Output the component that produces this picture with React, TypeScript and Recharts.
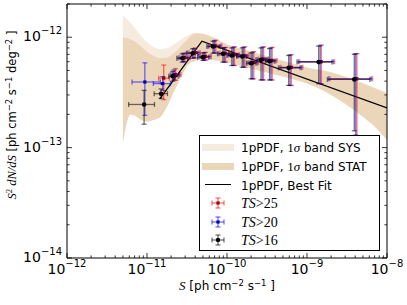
import React from 'react';
import { ComposedChart, Area, Line, Scatter, ErrorBar, XAxis, YAxis, Legend } from 'recharts';

const W = 407;
const H = 305;
const MARGIN = { top: 3, right: 19, bottom: 46, left: 66 };

// ---- 1pPDF bands ----
const bandS = [5e-12, 5.5e-12, 6.2e-12, 7e-12, 8.5e-12, 1e-11, 1.2e-11, 1.45e-11, 1.8e-11, 2.2e-11, 2.7e-11, 3.3e-11, 4e-11, 5e-11, 7e-11, 1e-10, 2e-10, 5e-10, 1e-9, 2e-9, 5e-9, 7e-9, 1e-8];
const statLo = [1.1e-13, 1.6e-13, 2.0e-13, 1.95e-13, 1.78e-13, 1.72e-13, 1.78e-13, 1.88e-13, 2.4e-13, 3.3e-13, 4.4e-13, 5.7e-13, 6.1e-13, 6.3e-13, 6.2e-13, 5.9e-13, 5.2e-13, 4.4e-13, 3.8e-13, 3.0e-13, 1.9e-13, 1.55e-13, 1.17e-13];
const statHi = [1.0e-12, 0.99e-12, 0.96e-12, 0.92e-12, 0.82e-12, 0.74e-12, 0.68e-12, 0.645e-12, 0.66e-12, 0.72e-12, 0.84e-12, 0.98e-12, 1.08e-12, 1.07e-12, 0.98e-12, 0.86e-12, 0.74e-12, 0.61e-12, 0.53e-12, 0.48e-12, 0.38e-12, 0.345e-12, 0.31e-12];
const sysHi = [1.57e-12, 1.48e-12, 1.36e-12, 1.22e-12, 1.02e-12, 0.9e-12, 0.82e-12, 0.78e-12, 0.8e-12, 0.87e-12, 0.96e-12, 1.05e-12, 1.1e-12, 1.08e-12, 0.99e-12, 0.87e-12, 0.745e-12, 0.615e-12, 0.535e-12, 0.485e-12, 0.385e-12, 0.35e-12, 0.315e-12];

// ---- best fit (broken power law) ----
const fitS = [1.44e-11, 4.86e-11, 1e-8];
const fitY = [2.75e-13, 9.2e-13, 2.29e-13];

// ---- TS>16 (black) ----
const ts16S = [9.2e-12, 1.5e-11, 2.1e-11, 2.76e-11, 3.72e-11, 5.0e-11, 6.7e-11, 8.9e-11, 1.15e-10, 1.55e-10, 2.0e-10, 2.66e-10, 3.4e-10, 5.9e-10, 1.4e-9, 3.9e-9];
const ts16Y = [2.46e-13, 3.08e-13, 4.42e-13, 6.45e-13, 7.17e-13, 6.6e-13, 8.24e-13, 7.08e-13, 6.84e-13, 6.7e-13, 5.82e-13, 6.25e-13, 6.07e-13, 5.28e-13, 5.95e-13, 4.15e-13];
const ts16SLo = [5.9e-12, 1.23e-11, 1.87e-11, 2.36e-11, 3.1e-11, 4.3e-11, 5.6e-11, 7.6e-11, 1.0e-10, 1.33e-10, 1.75e-10, 2.3e-10, 3.0e-10, 4.4e-10, 7.5e-10, 1.8e-9];
const ts16SHi = [1.24e-11, 1.8e-11, 2.45e-11, 3.2e-11, 4.3e-11, 5.9e-11, 8.0e-11, 1.05e-10, 1.32e-10, 1.75e-10, 2.3e-10, 3.05e-10, 3.9e-10, 8.2e-10, 2.05e-9, 6.1e-9];
const ts16YLo = [1.63e-13, 2.8e-13, 4.0e-13, 5.95e-13, 6.45e-13, 6.16e-13, 7.17e-13, 5.95e-13, 5.55e-13, 5.35e-13, 4.2e-13, 4.1e-13, 4.1e-13, 3.66e-13, 3.8e-13, 1.42e-13];
const ts16YHi = [3.3e-13, 3.4e-13, 4.9e-13, 7.07e-13, 7.85e-13, 7.2e-13, 9.2e-13, 8.0e-13, 8.0e-13, 8.0e-13, 7.2e-13, 8.0e-13, 7.9e-13, 6.84e-13, 8.3e-13, 7.0e-13];

// ---- TS>20 (blue) ----
const ts20S = [9.4e-12, 1.57e-11, 2.18e-11, 2.87e-11, 3.87e-11, 5.2e-11, 6.97e-11, 9.26e-11, 1.2e-10, 1.61e-10, 2.08e-10, 2.77e-10, 3.54e-10, 6.14e-10, 1.46e-9, 4.06e-9];
const ts20Y = [3.93e-13, 3.8e-13, 4.55e-13, 6.5e-13, 7.2e-13, 6.65e-13, 8.3e-13, 7.1e-13, 6.9e-13, 6.75e-13, 5.85e-13, 6.3e-13, 6.1e-13, 5.3e-13, 6.0e-13, 4.2e-13];
const ts20SLo = [6.5e-12, 1.2e-11, 1.95e-11, 2.45e-11, 3.22e-11, 4.47e-11, 5.82e-11, 7.9e-11, 1.04e-10, 1.38e-10, 1.82e-10, 2.39e-10, 3.12e-10, 4.58e-10, 7.8e-10, 1.87e-9];
const ts20SHi = [1.47e-11, 1.97e-11, 2.55e-11, 3.33e-11, 4.47e-11, 6.14e-11, 8.32e-11, 1.09e-10, 1.37e-10, 1.82e-10, 2.39e-10, 3.17e-10, 4.06e-10, 8.53e-10, 2.13e-9, 6.34e-9];
const ts20YLo = [1.96e-13, 3.3e-13, 4.1e-13, 6.0e-13, 6.5e-13, 6.2e-13, 7.2e-13, 5.95e-13, 5.55e-13, 5.35e-13, 4.2e-13, 4.1e-13, 4.1e-13, 3.66e-13, 3.8e-13, 1.3e-13];
const ts20YHi = [5.86e-13, 4.4e-13, 5.05e-13, 7.15e-13, 7.9e-13, 7.25e-13, 9.3e-13, 8.05e-13, 8.1e-13, 8.1e-13, 7.3e-13, 8.1e-13, 8.0e-13, 6.9e-13, 8.4e-13, 7.1e-13];

// ---- TS>25 (red) ----
const ts25S = [1.62e-11, 2.27e-11, 2.98e-11, 4.02e-11, 5.4e-11, 7.24e-11, 9.6e-11, 1.24e-10, 1.67e-10, 2.16e-10, 2.87e-10, 3.67e-10, 6.37e-10, 1.51e-9, 4.21e-9];
const ts25Y = [4.26e-13, 4.6e-13, 6.55e-13, 7.25e-13, 6.7e-13, 8.35e-13, 7.15e-13, 6.95e-13, 6.8e-13, 5.9e-13, 6.35e-13, 6.15e-13, 5.35e-13, 6.0e-13, 4.2e-13];
const ts25SLo = [1.4e-11, 2.02e-11, 2.55e-11, 3.35e-11, 4.64e-11, 6.05e-11, 8.2e-11, 1.08e-10, 1.44e-10, 1.89e-10, 2.48e-10, 3.24e-10, 4.75e-10, 8.1e-10, 1.94e-9];
const ts25SHi = [1.9e-11, 2.65e-11, 3.46e-11, 4.64e-11, 6.37e-11, 8.64e-11, 1.13e-10, 1.43e-10, 1.89e-10, 2.48e-10, 3.29e-10, 4.21e-10, 8.86e-10, 2.21e-9, 6.59e-9];
const ts25YLo = [2.72e-13, 4.07e-13, 6.0e-13, 6.5e-13, 6.2e-13, 7.2e-13, 5.95e-13, 5.55e-13, 5.35e-13, 4.2e-13, 4.1e-13, 4.1e-13, 3.66e-13, 3.8e-13, 1.2e-13];
const ts25YHi = [5.6e-13, 5.2e-13, 7.2e-13, 8.0e-13, 7.3e-13, 9.4e-13, 8.1e-13, 8.2e-13, 8.2e-13, 7.4e-13, 8.2e-13, 8.1e-13, 6.95e-13, 8.5e-13, 7.1e-13];

// ---- ticks ----
const xMajor = [1e-12, 1e-11, 1e-10, 1e-9, 1e-8];
const xMajorLabels = ['\u221212', '\u221211', '\u221210', '\u22129', '\u22128'];
const yMajor = [1e-14, 1e-13, 1e-12];
const yMajorLabels = ['\u221214', '\u221213', '\u221212'];
const minorMult = [2, 3, 4, 5, 6, 7, 8, 9];

const xTicks: number[] = [];
xMajor.forEach((m, i) => {
  xTicks.push(m);
  if (i < xMajor.length - 1) minorMult.forEach((k) => xTicks.push(k * m));
});
const yTicks: number[] = [];
yMajor.forEach((m, i) => {
  yTicks.push(m);
  if (i < yMajor.length - 1) minorMult.forEach((k) => yTicks.push(k * m));
});
yTicks.push(2e-12);

const bandData = bandS.map((S, i) => ({ S, sys: [statLo[i], sysHi[i]], stat: [statLo[i], statHi[i]] }));
const fitData = fitS.map((S, i) => ({ S, Y: fitY[i] }));
const mk = (S: number[], Y: number[], SLo: number[], SHi: number[], YLo: number[], YHi: number[]) =>
  S.map((s, i) => ({ S: s, Y: Y[i], ex: [s - SLo[i], SHi[i] - s], ey: [Y[i] - YLo[i], YHi[i] - Y[i]] }));
const data16 = mk(ts16S, ts16Y, ts16SLo, ts16SHi, ts16YLo, ts16YHi);
const data20 = mk(ts20S, ts20Y, ts20SLo, ts20SHi, ts20YLo, ts20YHi);
const data25 = mk(ts25S, ts25Y, ts25SLo, ts25SHi, ts25YLo, ts25YHi);

const SANS = "'DejaVu Sans', sans-serif";
const SERIF = "'Liberation Serif', 'DejaVu Serif', serif";
const SYS_COLOR = '#f5ecdf';
const STAT_COLOR = '#ebd6ba';
const RED = 'rgba(255,0,0,0.55)';
const BLUE = 'rgba(0,0,255,0.55)';
const BLACK = 'rgba(0,0,0,0.55)';

const majorIdx = (v: number, arr: number[]) => arr.findIndex((m) => Math.abs(Math.log10(v) - Math.log10(m)) < 1e-6);

const MAJ = 5;
const MIN = 2.6;

function BottomTick(p: any) {
  const { x, y, payload } = p;
  const i = majorIdx(payload.value, xMajor);
  const major = i >= 0;
  return (
    <g>
      <line x1={x} x2={x} y1={y} y2={y - (major ? MAJ : MIN)} stroke="#000" strokeWidth={0.8} />
      {major && (
        <text x={x} y={y + 16} textAnchor="middle" fontFamily={SANS} fontSize={14} fill="#000">
          10<tspan dy={-7} fontSize={10}>{xMajorLabels[i]}</tspan>
        </text>
      )}
    </g>
  );
}
function TopTick(p: any) {
  const { x, y, payload } = p;
  const major = majorIdx(payload.value, xMajor) >= 0;
  return <line x1={x} x2={x} y1={y} y2={y + (major ? MAJ : MIN)} stroke="#000" strokeWidth={0.8} />;
}
function LeftTick(p: any) {
  const { x, y, payload } = p;
  const i = majorIdx(payload.value, yMajor);
  const major = i >= 0;
  return (
    <g>
      <line x1={x} x2={x + (major ? MAJ : MIN)} y1={y} y2={y} stroke="#000" strokeWidth={0.8} />
      {major && (
        <text x={x - 5} y={y + 4} textAnchor="end" fontFamily={SANS} fontSize={14} fill="#000">
          10<tspan dy={-7} fontSize={10}>{yMajorLabels[i]}</tspan>
        </text>
      )}
    </g>
  );
}
function RightTick(p: any) {
  const { x, y, payload } = p;
  const major = majorIdx(payload.value, yMajor) >= 0;
  return <line x1={x} x2={x - (major ? MAJ : MIN)} y1={y} y2={y} stroke="#000" strokeWidth={0.8} />;
}

function XTitle(props: any) {
  const vb = props.viewBox;
  return (
    <text x={vb.x + vb.width / 2} y={vb.y + 32} textAnchor="middle" fontFamily={SANS} fontSize={12} fill="#000">
      <tspan fontFamily={SERIF} fontStyle="italic" fontSize={13}>S</tspan>
      <tspan> [ph cm</tspan>
      <tspan dy={-4} fontSize={8.5}>{'\u22122'}</tspan>
      <tspan dy={4}>{'  s'}</tspan>
      <tspan dy={-4} fontSize={8.5}>{'\u22121'}</tspan>
      <tspan dy={4}>{' ]'}</tspan>
    </text>
  );
}

function YTitle(props: any) {
  const vb = props.viewBox;
  const cx = vb.x - 50;
  const cy = vb.y + vb.height / 2 - 16;
  return (
    <text x={cx} y={cy} transform={`rotate(-90 ${cx} ${cy})`} textAnchor="middle" fontFamily={SANS} fontSize={11.5} fill="#000">
      <tspan fontFamily={SERIF} fontStyle="italic" fontSize={12.5}>S</tspan>
      <tspan dy={-4} fontSize={8.5} fontFamily={SERIF}>2</tspan>
      <tspan dy={4} fontFamily={SERIF} fontStyle="italic" fontSize={12.5}>{' dN/dS'}</tspan>
      <tspan> [ph cm</tspan>
      <tspan dy={-4} fontSize={8.5}>{'\u22122'}</tspan>
      <tspan dy={4}>{'  s'}</tspan>
      <tspan dy={-4} fontSize={8.5}>{'\u22121'}</tspan>
      <tspan dy={4}>{'  deg'}</tspan>
      <tspan dy={-4} fontSize={8.5}>{'\u22122'}</tspan>
      <tspan dy={4}>{' ]'}</tspan>
    </text>
  );
}

function ErrSym({ color, marker }: { color: string; marker: 'sq-r' | 'sq-b' | 'dot' }) {
  const cx = 18;
  const cy = 9;
  return (
    <svg width={36} height={18} style={{ position: 'absolute', left: 0, top: 0 }}>
      <line x1={cx - 6} x2={cx + 6} y1={cy} y2={cy} stroke={color} strokeWidth={1.3} />
      <line x1={cx} x2={cx} y1={cy - 5} y2={cy + 5} stroke={color} strokeWidth={1.3} />
      <line x1={cx - 6} x2={cx - 6} y1={cy - 2.5} y2={cy + 2.5} stroke={color} strokeWidth={1.3} />
      <line x1={cx + 6} x2={cx + 6} y1={cy - 2.5} y2={cy + 2.5} stroke={color} strokeWidth={1.3} />
      <line x1={cx - 2.5} x2={cx + 2.5} y1={cy - 5} y2={cy - 5} stroke={color} strokeWidth={1.3} />
      <line x1={cx - 2.5} x2={cx + 2.5} y1={cy + 5} y2={cy + 5} stroke={color} strokeWidth={1.3} />
      {marker === 'dot' ? (
        <circle cx={cx} cy={cy} r={2.2} fill="#000" />
      ) : (
        <rect x={cx - 1.6} y={cy - 1.6} width={3.2} height={3.2} fill={marker === 'sq-r' ? '#a00000' : '#0000a0'} />
      )}
    </svg>
  );
}

const rowCenters = [11, 30, 48.5, 67, 85.5, 104];

function LegendBox() {
  const row = (i: number, sym: React.ReactNode, label: React.ReactNode) => (
    <div key={i} style={{ position: 'absolute', left: 0, top: rowCenters[i] - 9, width: 180, height: 18 }}>
      <div style={{ position: 'absolute', left: 0, top: 0, width: 36, height: 18 }}>{sym}</div>
      <div style={{ position: 'absolute', left: 41, top: 0, height: 18, lineHeight: '18px', whiteSpace: 'nowrap' }}>{label}</div>
    </div>
  );
  const patch = (c: string) => (
    <div style={{ position: 'absolute', left: 2, top: 6, width: 32, height: 6.5, background: c }} />
  );
  const bandLabel = (kind: string) => (
    <span style={{ fontFamily: SANS, fontSize: 12 }}>
      1pPDF, <span style={{ fontFamily: SERIF, fontSize: 13 }}>1<i>σ</i></span> band {kind}
    </span>
  );
  const tsLabel = (n: string) => (
    <span style={{ fontFamily: SERIF, fontSize: 14 }}>
      <i>TS</i>&gt;{n}
    </span>
  );
  return (
    <div
      style={{
        position: 'relative',
        width: 181,
        height: 116,
        boxSizing: 'border-box',
        border: '1px solid #000',
        background: '#fff',
        color: '#000',
      }}
    >
      {row(0, patch(SYS_COLOR), bandLabel('SYS'))}
      {row(1, patch(STAT_COLOR), bandLabel('STAT'))}
      {row(
        2,
        <div style={{ position: 'absolute', left: 5, top: 8.3, width: 26, height: 1.4, background: '#000' }} />,
        <span style={{ fontFamily: SANS, fontSize: 12 }}>1pPDF, Best Fit</span>
      )}
      {row(3, <ErrSym color={RED} marker="sq-r" />, tsLabel('25'))}
      {row(4, <ErrSym color={BLUE} marker="sq-b" />, tsLabel('20'))}
      {row(5, <ErrSym color={BLACK} marker="dot" />, tsLabel('16'))}
    </div>
  );
}

const squareShape = (fill: string) => (p: any) =>
  p.cx == null ? <g /> : <rect x={p.cx - 1.6} y={p.cy - 1.6} width={3.2} height={3.2} fill={fill} />;
const dotShape = (p: any) => (p.cx == null ? <g /> : <circle cx={p.cx} cy={p.cy} r={2.3} fill="#000" />);

export default function App() {
  const axisLine = { stroke: '#000', strokeWidth: 1 };
  return (
    <div style={{ position: 'absolute', left: 0, top: 0, width: W, height: H, background: '#fff' }}>
      <ComposedChart width={W} height={H} margin={MARGIN}>
        <XAxis
          xAxisId="b"
          dataKey="S"
          type="number"
          scale="log"
          domain={[1e-12, 1e-8]}
          allowDataOverflow
          ticks={xTicks}
          interval={0}
          tick={(p: any) => <BottomTick {...p} />}
          tickLine={false}
          tickSize={0}
          tickMargin={0}
          height={1}
          axisLine={axisLine}
          orientation="bottom"
          label={XTitle}
        />
        <XAxis
          xAxisId="t"
          dataKey="S"
          type="number"
          scale="log"
          domain={[1e-12, 1e-8]}
          allowDataOverflow
          ticks={xTicks}
          interval={0}
          tick={(p: any) => <TopTick {...p} />}
          tickLine={false}
          tickSize={0}
          tickMargin={0}
          height={1}
          axisLine={axisLine}
          orientation="top"
        />
        <YAxis
          yAxisId="l"
          dataKey="Y"
          type="number"
          scale="log"
          domain={[1e-14, 2e-12]}
          allowDataOverflow
          ticks={yTicks}
          interval={0}
          tick={(p: any) => <LeftTick {...p} />}
          tickLine={false}
          tickSize={0}
          tickMargin={0}
          width={1}
          axisLine={axisLine}
          orientation="left"
          label={YTitle}
        />
        <YAxis
          yAxisId="r"
          dataKey="Y"
          type="number"
          scale="log"
          domain={[1e-14, 2e-12]}
          allowDataOverflow
          ticks={yTicks}
          interval={0}
          tick={(p: any) => <RightTick {...p} />}
          tickLine={false}
          tickSize={0}
          tickMargin={0}
          width={1}
          axisLine={axisLine}
          orientation="right"
        />
        <Area
          xAxisId="b"
          yAxisId="l"
          data={bandData}
          dataKey="sys"
          type="monotone"
          stroke="none"
          fill={SYS_COLOR}
          fillOpacity={1}
          isAnimationActive={false}
        />
        <Area
          xAxisId="b"
          yAxisId="l"
          data={bandData}
          dataKey="stat"
          type="monotone"
          stroke="none"
          fill={STAT_COLOR}
          fillOpacity={1}
          isAnimationActive={false}
        />
        <Line
          xAxisId="b"
          yAxisId="l"
          data={fitData}
          dataKey="Y"
          type="linear"
          stroke="#000"
          strokeWidth={1.3}
          dot={false}
          isAnimationActive={false}
        />
        <Scatter xAxisId="b" yAxisId="l" data={data25} dataKey="Y" shape={squareShape('#a00000')} isAnimationActive={false}>
          <ErrorBar dataKey="ex" direction="x" width={2.5} stroke={RED} strokeWidth={1.3} />
          <ErrorBar dataKey="ey" direction="y" width={2.5} stroke={RED} strokeWidth={1.3} />
        </Scatter>
        <Scatter xAxisId="b" yAxisId="l" data={data20} dataKey="Y" shape={squareShape('#0000a0')} isAnimationActive={false}>
          <ErrorBar dataKey="ex" direction="x" width={2.5} stroke={BLUE} strokeWidth={1.3} />
          <ErrorBar dataKey="ey" direction="y" width={2.5} stroke={BLUE} strokeWidth={1.3} />
        </Scatter>
        <Scatter xAxisId="b" yAxisId="l" data={data16} dataKey="Y" shape={dotShape} isAnimationActive={false}>
          <ErrorBar dataKey="ex" direction="x" width={2.5} stroke={BLACK} strokeWidth={1.3} />
          <ErrorBar dataKey="ey" direction="y" width={2.5} stroke={BLACK} strokeWidth={1.3} />
        </Scatter>
        <Legend
          layout="vertical"
          align="center"
          verticalAlign="middle"
          wrapperStyle={{ left: 199, top: 135, width: 181, height: 116 }}
          content={() => <LegendBox />}
        />
      </ComposedChart>
    </div>
  );
}
